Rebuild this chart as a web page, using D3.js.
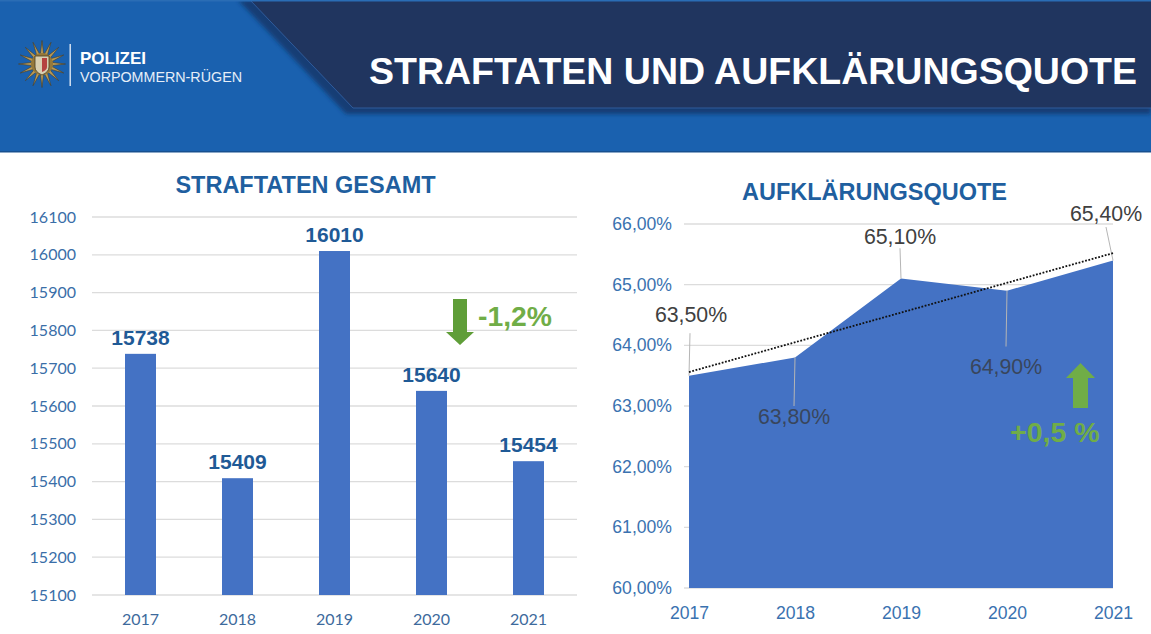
<!DOCTYPE html>
<html><head><meta charset="utf-8">
<script src="https://cdn.jsdelivr.net/npm/d3@7"></script>
<style>html,body{margin:0;padding:0;background:#fff}svg{display:block}text{font-family:"Liberation Sans",Arial,sans-serif}</style>
</head><body><svg id="c" width="1151" height="634"></svg>
<script>
const years = ["2017","2018","2019","2020","2021"];
const offences = [15738,15409,16010,15640,15454];
const offenceTicks = [15100,15200,15300,15400,15500,15600,15700,15800,15900,16000,16100];
const clearance = [63.5,63.8,65.1,64.9,65.4];
const clearanceTicks = [60,61,62,63,64,65,66];
const trendEnds = [63.56,65.52];
const trendYears = ["2017","2021"];

const svg = d3.select("#c");
const defs = svg.append("defs");
const blur = defs.append("filter").attr("id","sh").attr("x","-5%").attr("y","-10%").attr("width","110%").attr("height","125%");
blur.append("feGaussianBlur").attr("stdDeviation",2);

// Header
svg.append("rect").attr("width",1151).attr("height",152).attr("fill","#1a61af");
svg.append("rect").attr("y",151).attr("width",1151).attr("height",1.5).attr("fill","#17508f");
const line = d3.line();
svg.append("path").attr("d",line([[238,0],[1151,0],[1151,114],[346,114]])+"Z").attr("fill","#123c74").attr("filter","url(#sh)");
svg.append("path").attr("d",line([[250,0],[1151,0],[1151,108],[353,108]])+"Z").attr("fill","#20355f");
svg.append("path").attr("d",line([[250,0],[353,108],[1151,108]])).attr("fill","none").attr("stroke","#2f5c9c").attr("stroke-width",1);
svg.append("rect").attr("width",1151).attr("height",1.5).attr("fill","#2a6db5");
svg.append("text").attr("x",1137).attr("y",84).attr("text-anchor","end").attr("fill","#fff").attr("font-weight",700).attr("font-size",37.5).text("STRAFTATEN UND AUFKLÄRUNGSQUOTE");

// Emblem
const emblem = svg.append("g").attr("transform","translate(42,64)");
const starPts = d3.range(32).map(i=>{const a=i*Math.PI/16, r=i%2?9:23.5; return [r*Math.sin(a),r*-Math.cos(a)];});
emblem.append("path").attr("d",line(starPts)+"Z").attr("fill","#b79a58").attr("stroke","#4a3d22").attr("stroke-width",.6);
emblem.append("circle").attr("r",11).attr("fill","#96793a");
emblem.append("path").attr("d","M-7,-8H7V3Q7,8 0,11Q-7,8 -7,3Z").attr("fill","#d9cfb0").attr("stroke","#4a3d22").attr("stroke-width",.8);
emblem.append("path").attr("d","M0,-6H5V3Q5,6 0,8Z").attr("fill","#b5423f");
svg.append("rect").attr("x",69.5).attr("y",44).attr("width",1.4).attr("height",42).attr("fill","#dfe9f5");
svg.append("text").attr("x",80).attr("y",64).attr("fill","#fff").attr("font-weight",700).attr("font-size",17).attr("textLength",66).attr("lengthAdjust","spacingAndGlyphs").text("POLIZEI");
svg.append("text").attr("x",80).attr("y",81.5).attr("fill","#e6eef8").attr("font-size",15).attr("textLength",162).attr("lengthAdjust","spacingAndGlyphs").text("VORPOMMERN-RÜGEN");

// Left chart
const xL = d3.scaleBand().domain(years).range([92,577]);
const yL = d3.scaleLinear().domain([15100,16100]).range([595,217]);
const gridC = "#dcdcdc";
svg.append("g").selectAll("line").data(offenceTicks).join("line")
  .attr("x1",92).attr("x2",577).attr("y1",d=>yL(d)).attr("y2",d=>yL(d)).attr("stroke",gridC).attr("stroke-width",1.3);
const axY1 = svg.append("g").attr("transform","translate(81,0)").call(d3.axisLeft(yL).tickValues(offenceTicks).tickSize(0).tickPadding(5).tickFormat(d3.format("d")));
axY1.select(".domain").remove();
axY1.selectAll("text").attr("style","font-family:Lato").attr("font-size",16).attr("fill","#3a6ea8");
const axX1 = svg.append("g").attr("transform","translate(0,611)").call(d3.axisBottom(xL).tickSize(0).tickPadding(3));
axX1.select(".domain").remove();
axX1.selectAll("text").attr("style","font-family:Lato").attr("font-size",16).attr("fill","#3d6a9c");
svg.append("g").selectAll("rect").data(offences).join("rect")
  .attr("x",(d,i)=>xL(years[i])+xL.bandwidth()/2-15.5).attr("width",31)
  .attr("y",d=>yL(d)).attr("height",d=>yL(15100)-yL(d)).attr("fill","#4472c4");
svg.append("g").selectAll("text").data(offences).join("text")
  .attr("x",(d,i)=>xL(years[i])+xL.bandwidth()/2).attr("y",d=>yL(d)-9)
  .attr("text-anchor","middle").attr("font-weight",700).attr("font-size",21).attr("fill","#1f5a96").text(d=>d);
svg.append("text").attr("x",305.5).attr("y",193).attr("text-anchor","middle").attr("font-weight",700).attr("font-size",23.5).attr("fill","#1f5f9f").text("STRAFTATEN GESAMT");

// Right chart
const xR = d3.scalePoint().domain(years).range([689,1113]);
const yR = d3.scaleLinear().domain([60,66]).range([588,224]);
svg.append("g").selectAll("line").data(clearanceTicks).join("line")
  .attr("x1",684).attr("x2",1113).attr("y1",d=>yR(d)).attr("y2",d=>yR(d)).attr("stroke",gridC).attr("stroke-width",1.3);
const area = d3.area().x((d,i)=>xR(years[i])).y0(yR(60)).y1(d=>yR(d));
svg.append("path").attr("d",area(clearance)).attr("fill","#4472c4");
const fmt = d=>d.toFixed(2).replace(".",",")+"%";
const axY2 = svg.append("g").attr("transform","translate(672,0)").call(d3.axisLeft(yR).tickValues(clearanceTicks).tickSize(0).tickPadding(0).tickFormat(fmt));
axY2.select(".domain").remove();
axY2.selectAll("text").attr("font-size",17.6).attr("fill","#3a72b0");
const axX2 = svg.append("g").attr("transform","translate(0,605)").call(d3.axisBottom(xR).tickSize(0).tickPadding(1));
axX2.select(".domain").remove();
axX2.selectAll("text").attr("font-size",17.6).attr("fill","#3a72b0");
svg.append("text").attr("x",874.5).attr("y",200).attr("text-anchor","middle").attr("font-weight",700).attr("font-size",23.5).attr("fill","#1f5f9f").text("AUFKLÄRUNGSQUOTE");

// Leader lines and data labels
const leaderEnds = [64.2,63.0,65.6,63.98,65.95];
const leaderX = [690,794,900,1006,1106];
const labelX = [691,794,900,1006,1106];
const labelY = [322,424,244,374,221];
svg.append("g").selectAll("line").data(clearance).join("line")
  .attr("x1",(d,i)=>xR(years[i])).attr("y1",d=>yR(d))
  .attr("x2",(d,i)=>leaderX[i]).attr("y2",(d,i)=>yR(leaderEnds[i]))
  .attr("stroke","#b5b5b5").attr("stroke-width",1);
svg.append("g").selectAll("text").data(clearance).join("text")
  .attr("x",(d,i)=>labelX[i]).attr("y",(d,i)=>labelY[i]).attr("text-anchor","middle")
  .attr("font-size",21.3).attr("fill",(d,i)=>(i==1||i==3)?"#39465c":"#404040").text(fmt);

// Trend
svg.append("path").attr("d",d3.line().x((d,i)=>xR(trendYears[i])).y(d=>yR(d))(trendEnds))
  .attr("fill","none").attr("stroke","#111").attr("stroke-width",1.8).attr("stroke-dasharray","1.8 1.6");

// Arrows and changes
const green = "#70ad47";
const ay = d3.line();
svg.append("path").attr("d",ay([[453,299],[467,299],[467,332],[474,332],[460,345],[446,332],[453,332]])+"Z").attr("fill","#5f9e38");
svg.append("text").attr("x",478).attr("y",326).attr("font-weight",700).attr("font-size",28.3).attr("fill",green).text("-1,2%");
svg.append("path").attr("d",ay([[1073,408],[1088,408],[1088,378],[1095,378],[1080.5,363],[1066,378],[1073,378]])+"Z").attr("fill",green);
svg.append("text").attr("x",1010).attr("y",442).attr("font-weight",700).attr("font-size",28.5).attr("fill",green).text("+0,5 %");
</script></body></html>
